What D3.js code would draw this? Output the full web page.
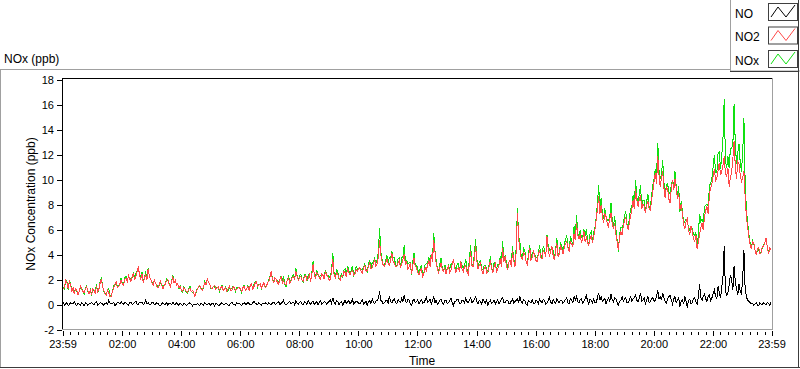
<html>
<head>
    <meta charset="utf-8">
    <title>NOx (ppb)</title>
    <style>
        body { margin: 0; background-color: #fff; }
        text { font-family: "Liberation Sans", Arial, sans-serif; fill: #000; }
        .axis text { font-size: 11px; }
        .axis line { stroke: #000; shape-rendering: crispEdges; }
        .axis path { display: none; }
        .series { fill: none; stroke-width: 1px; shape-rendering: crispEdges; }
    </style>
</head>
<body>
    <svg id="chart" width="800" height="369"></svg>
    <script src="https://d3js.org/d3.v7.min.js"></script>
    <script>
        // readings every 5 minutes from 23:59 to 23:59 next day (289 values),
        // plus the in-between readings 2.5 minutes later (288 values)
        let sampleMinutes = 5;

        let no2 = [
            1.8, 1.3, 1.7, 1.9, 1.0, 0.8, 1.1, 1.0, 1.2, 0.9, 1.4, 0.8,
            0.7, 1.1, 1.4, 1.2, 2.0, 1.1, 0.7, 0.9, 0.6, 1.3, 1.8, 1.4,
            1.9, 1.5, 2.1, 2.3, 1.8, 2.5, 2.2, 3.0, 2.0, 1.7, 2.3, 2.8,
            2.0, 1.5, 1.7, 1.3, 1.8, 1.2, 1.6, 2.0, 1.4, 2.2, 1.9, 1.6,
            1.4, 1.0, 1.2, 0.9, 1.3, 1.1, 0.6, 1.2, 1.5, 1.1, 1.7, 2.0,
            1.6, 1.2, 1.5, 1.3, 1.1, 1.4, 1.2, 1.0, 1.4, 1.1, 1.3, 1.2,
            1.3, 1.0, 1.4, 1.2, 1.1, 1.6, 1.4, 1.8, 1.5, 1.3, 1.7, 1.4,
            1.8, 2.6, 1.7, 2.0, 1.6, 2.2, 1.9, 1.5, 2.1, 1.8, 2.2, 2.6,
            1.9, 2.2, 1.8, 2.3, 2.0, 1.8, 3.2, 2.1, 2.4, 2.0, 2.3, 2.6,
            2.2, 2.0, 3.6, 2.1, 2.4, 1.9, 2.2, 2.5, 2.9, 2.3, 2.7, 2.4,
            2.6, 2.9, 2.5, 3.1, 2.7, 3.3, 2.9, 3.6, 3.2, 5.1, 3.4, 3.0,
            3.6, 3.1, 4.1, 3.3, 3.0, 3.5, 3.2, 4.0, 3.4, 3.0, 2.4, 3.7,
            2.9, 2.3, 2.8, 2.4, 2.7, 3.5, 4.0, 5.1, 3.2, 2.5, 3.3, 2.6,
            2.4, 3.0, 2.7, 3.6, 2.5, 2.9, 3.4, 2.6, 3.1, 2.4, 4.2, 3.0,
            4.6, 2.8, 3.3, 2.4, 3.0, 2.6, 3.5, 2.5, 3.2, 2.8, 3.6, 4.5,
            3.8, 2.7, 3.5, 4.2, 3.0, 7.3, 4.4, 3.6, 4.0, 3.2, 4.5, 3.7,
            3.9, 3.4, 4.3, 3.6, 4.1, 5.4, 3.8, 4.6, 3.5, 4.9, 4.0, 4.4,
            4.5, 5.0, 4.2, 4.8, 5.6, 6.5, 5.2, 4.9, 5.8, 5.3, 4.7, 5.5,
            5.4, 6.8, 8.6, 7.9, 6.5, 7.0, 6.2, 7.3, 6.0, 5.6, 4.3, 5.8,
            6.2, 6.9, 5.9, 7.0, 8.3, 9.2, 7.8, 8.6, 8.0, 7.3, 8.2, 7.5,
            9.0, 10.5, 11.8, 9.4, 10.6, 8.5, 9.2, 8.1, 9.9, 10.0, 8.4, 7.6,
            7.2, 6.0, 6.8, 5.5, 5.9, 5.0, 4.4, 5.6, 6.5, 7.0, 7.8, 8.8,
            9.6, 10.8, 10.1, 11.3, 10.6, 11.8, 10.2, 9.4, 10.5, 13.0, 10.0, 11.2,
            9.8, 10.6, 7.0, 5.4, 4.4, 4.9, 3.9, 4.5, 4.1, 4.6, 5.3, 4.0, 4.3
        ];
        let no2Mid = [
            1.2, 1.9, 1.2, 1.5, 1.3, 1.2, 0.7, 1.4, 1.0, 1.2, 1.1, 1.1,
            1.2, 0.8, 1.0, 1.7, 1.4, 0.8, 1.1, 0.6, 1.0, 1.6, 1.3, 1.6,
            1.6, 2.0, 1.8, 2.0, 2.2, 1.9, 2.6, 2.3, 2.4, 2.1, 1.9, 2.2,
            1.7, 1.9, 1.4, 1.6, 1.5, 1.5, 1.9, 1.6, 1.8, 1.7, 1.5, 1.3,
            1.1, 1.3, 1.0, 1.2, 1.0, 0.9, 1.0, 1.4, 1.2, 1.4, 1.5, 1.7,
            1.3, 1.4, 1.2, 1.4, 1.3, 1.1, 1.3, 1.2, 1.1, 1.4, 1.1, 1.3,
            1.2, 1.3, 1.1, 1.4, 1.5, 1.2, 1.7, 1.4, 1.6, 1.5, 1.3, 1.7,
            2.2, 1.9, 2.1, 1.7, 2.0, 1.7, 1.6, 1.9, 1.7, 2.1, 2.0, 2.2,
            2.1, 1.9, 2.2, 1.9, 2.3, 2.4, 2.3, 2.5, 2.1, 2.4, 2.0, 2.3,
            1.9, 2.6, 2.4, 2.5, 2.1, 2.3, 2.6, 2.2, 2.5, 2.6, 2.3, 2.8,
            2.8, 2.6, 2.9, 2.6, 3.0, 2.8, 3.2, 3.0, 3.7, 3.9, 3.1, 3.3,
            3.2, 3.5, 3.4, 3.0, 3.3, 2.9, 3.6, 3.2, 2.8, 3.3, 3.1, 3.0,
            2.5, 2.7, 2.2, 2.9, 3.1, 3.0, 3.4, 4.2, 2.8, 2.9, 2.7, 2.9,
            2.8, 2.5, 3.2, 2.9, 2.8, 2.6, 2.8, 3.0, 2.6, 3.3, 3.1, 3.6,
            3.5, 3.1, 2.7, 2.9, 2.5, 3.0, 2.8, 3.0, 2.6, 3.1, 3.0, 3.4,
            3.1, 3.3, 3.0, 3.5, 4.2, 5.2, 3.7, 4.1, 3.4, 3.8, 3.5, 4.2,
            3.5, 4.0, 3.7, 4.3, 3.8, 4.4, 4.2, 3.9, 4.2, 3.8, 4.6, 4.0,
            4.8, 4.5, 5.0, 4.6, 5.1, 5.5, 5.6, 5.2, 5.0, 4.9, 5.2, 4.9,
            6.0, 7.6, 7.2, 7.0, 7.2, 6.4, 6.8, 6.4, 6.5, 5.0, 5.4, 5.5,
            6.7, 6.3, 6.6, 7.6, 7.6, 8.3, 8.4, 7.6, 7.8, 7.9, 7.6, 8.3,
            9.8, 9.6, 10.3, 10.1, 9.3, 9.4, 8.4, 9.2, 9.1, 9.3, 8.9, 8.0,
            6.4, 6.6, 5.9, 6.2, 5.2, 5.5, 5.0, 6.1, 5.9, 7.5, 7.2, 9.3,
            10.2, 9.9, 10.7, 10.3, 11.1, 10.4, 10.9, 10.1, 11.6, 11.0, 11.4, 10.3,
            10.1, 8.6, 6.2, 4.8, 5.0, 4.3, 4.4, 4.0, 4.6, 4.9, 4.5, 4.5
        ];

        let no = [
            0.0, -0.1, 0.1, -0.05, 0.05, 0.2, -0.1, 0.0, 0.1, -0.15, 0.05, 0.0,
            0.1, -0.05, 0.2, 0.0, 0.05, -0.1, 0.1, 0.3, 0.0, 0.15, -0.05, 0.1,
            0.2, 0.0, 0.1, -0.1, 0.15, 0.05, 0.25, 0.0, 0.1, -0.05, 0.3, 0.1,
            -0.05, 0.1, 0.0, 0.05, -0.15, 0.1, 0.0, -0.1, 0.05, 0.15, -0.05, 0.0,
            0.05, -0.1, 0.0, -0.05, 0.1, -0.15, 0.0, 0.05, -0.1, 0.0, 0.1, -0.05,
            0.0, 0.05, -0.15, 0.0, -0.1, 0.1, -0.05, 0.0, -0.1, 0.15, 0.0, 0.1,
            0.05, -0.1, 0.1, 0.0, 0.05, -0.05, 0.2, 0.0, 0.1, -0.1, 0.0, 0.05,
            0.1, -0.05, 0.15, 0.0, 0.2, 0.05, 0.3, -0.1, 0.1, 0.0, 0.15, 0.25,
            0.0, 0.2, -0.05, 0.1, 0.3, 0.0, 0.2, 0.1, -0.1, 0.25, 0.05, 0.15,
            0.1, 0.3, 0.5, 0.0, 0.2, 0.1, -0.1, 0.3, 0.15, 0.0, 0.35, 0.1,
            0.2, 0.0, 0.3, 0.1, -0.1, 0.25, 0.4, 0.05, 0.3, 1.0, 0.2, 0.1,
            0.3, 0.6, 0.1, 0.4, 0.0, 0.2, 0.5, 0.7, 0.1, 0.3, -0.1, 0.4,
            0.2, 0.0, 0.35, 0.1, 0.5, 0.2, 0.0, 0.6, 0.3, 0.1, 0.4, 0.0,
            0.3, 0.1, 0.45, -0.1, 0.2, 0.35, 0.0, 0.25, 0.5, 0.1, 0.5, 0.2,
            0.6, 0.0, 0.2, 0.4, 0.1, -0.1, 0.3, 0.15, 0.0, 0.35, 0.2, 0.5,
            0.1, 0.3, 0.0, 0.4, 0.2, 0.4, 0.6, 0.1, 0.3, -0.1, 0.2, 0.35,
            0.0, 0.25, 0.4, 0.1, 0.3, 0.1, 0.5, 0.0, 0.2, 0.4, 0.1, 0.3,
            0.2, 0.5, 0.0, 0.3, 0.6, 0.6, 0.1, 0.4, 0.2, 0.7, 0.0, 0.3,
            0.4, 0.1, 0.9, 0.6, 0.3, 0.0, 0.5, 0.8, 0.2, 0.4, -0.1, 0.3,
            0.2, 0.5, 0.1, 0.6, 0.4, 0.7, 0.2, 0.9, 0.3, 0.0, 0.6, 0.2,
            0.5, 0.3, 1.1, 0.6, 0.9, 0.2, 0.4, 0.7, 0.0, 0.6, 0.3, -0.2,
            0.3, 0.6, -0.3, 0.4, 0.1, 0.5, 0.0, 1.6, 0.3, 0.8, 0.2, 0.7,
            0.5, 1.1, 0.4, 0.9, 1.3, 4.6, 0.7, 1.5, 2.0, 3.0, 1.2, 1.6,
            0.8, 4.3, 0.6, 0.2, 0.0, -0.1, 0.1, -0.15, 0.0, 0.1, -0.1, 0.05, 0.15
        ];
        let noMid = [
            0.1, 0.0, -0.1, 0.1, 0.0, -0.05, 0.1, -0.1, 0.0, 0.1, -0.1, 0.05,
            0.0, 0.1, -0.1, 0.1, 0.0, 0.05, -0.05, 0.1, 0.05, -0.1, 0.1, 0.0,
            0.05, 0.1, 0.0, 0.1, -0.05, 0.15, 0.0, 0.1, 0.15, 0.05, 0.0, -0.05,
            0.1, -0.05, 0.1, -0.1, 0.05, 0.0, 0.1, 0.05, -0.05, 0.0, 0.1, -0.1,
            -0.05, 0.05, -0.1, 0.05, 0.0, 0.0, -0.05, -0.05, 0.05, -0.1, 0.0, 0.05,
            -0.1, 0.0, 0.05, -0.1, 0.05, -0.05, 0.05, -0.1, 0.05, 0.0, -0.1, 0.0,
            -0.05, 0.05, 0.0, 0.1, -0.05, 0.1, 0.05, -0.05, 0.0, 0.05, 0.1, -0.05,
            0.0, 0.1, 0.0, 0.15, -0.05, 0.15, 0.0, 0.05, 0.2, 0.1, -0.05, 0.05,
            0.15, 0.0, 0.2, -0.05, 0.1, 0.15, -0.05, 0.2, 0.1, 0.0, 0.2, 0.0,
            0.2, 0.05, 0.15, 0.25, -0.05, 0.2, 0.1, 0.05, 0.25, 0.15, 0.0, 0.2,
            0.05, 0.2, 0.0, 0.2, 0.15, 0.05, 0.15, 0.25, 0.45, 0.3, 0.0, 0.25,
            0.1, 0.2, 0.3, 0.15, 0.35, 0.1, 0.2, 0.25, 0.4, 0.0, 0.25, 0.1,
            0.35, 0.2, 0.05, 0.3, 0.15, 0.4, 0.25, 0.1, 0.0, 0.3, 0.1, 0.25,
            0.0, 0.3, 0.1, 0.2, 0.4, 0.05, 0.3, 0.1, 0.2, 0.35, 0.1, 0.4,
            0.2, 0.3, 0.0, 0.2, 0.3, 0.15, 0.05, 0.3, 0.2, 0.0, 0.4, 0.1,
            0.3, 0.05, 0.25, 0.1, 0.3, 0.15, 0.2, 0.35, 0.0, 0.3, 0.1, 0.05,
            0.3, 0.05, 0.2, 0.35, 0.0, 0.3, 0.15, 0.35, 0.05, 0.2, 0.3, 0.05,
            0.35, 0.1, 0.4, 0.1, 0.3, 0.2, 0.35, 0.1, 0.45, 0.2, 0.4, 0.1,
            0.1, 0.5, 0.3, 0.2, 0.45, 0.3, 0.2, 0.35, 0.5, 0.1, 0.2, 0.6,
            0.4, 0.1, 0.35, 0.2, 0.5, 0.3, 0.45, 0.2, 0.5, 0.3, 0.1, 0.4,
            0.2, 0.6, 0.4, 0.3, 0.5, 0.1, 0.6, 0.3, 0.4, 0.1, 0.5, 0.2,
            0.0, 0.2, 0.3, 0.0, 0.4, 0.2, 0.6, 0.5, 0.6, 0.4, 0.6, 0.3,
            0.8, 0.6, 1.4, 0.5, 2.2, 1.0, 0.9, 2.3, 1.1, 1.8, 0.7, 1.0,
            2.0, 1.2, 0.3, 0.1, 0.05, 0.0, -0.1, 0.1, -0.05, 0.0, 0.1, -0.1
        ];

        let nox = [
            1.8, 1.2, 1.8, 1.85, 1.05, 1.0, 1.0, 1.0, 1.3, 0.75, 1.45, 0.8,
            0.8, 1.05, 1.6, 1.2, 2.05, 1.0, 0.8, 1.2, 0.6, 1.45, 1.75, 1.5,
            2.1, 1.5, 2.2, 2.2, 1.95, 2.55, 2.45, 3.0, 2.1, 1.65, 2.6, 2.9,
            1.95, 1.6, 1.7, 1.35, 1.65, 1.3, 1.6, 1.9, 1.45, 2.35, 1.85, 1.6,
            1.45, 0.9, 1.2, 0.85, 1.4, 0.95, 0.6, 1.25, 1.4, 1.1, 1.8, 1.95,
            1.6, 1.25, 1.35, 1.3, 1.0, 1.5, 1.15, 1.0, 1.3, 1.25, 1.3, 1.3,
            1.35, 0.9, 1.5, 1.2, 1.15, 1.55, 1.6, 1.8, 1.6, 1.2, 1.7, 1.45,
            1.9, 2.55, 1.85, 2.0, 1.8, 2.25, 2.2, 1.4, 2.2, 1.8, 2.35, 2.85,
            1.9, 2.4, 1.75, 2.4, 2.3, 1.8, 3.4, 2.2, 2.3, 2.25, 2.35, 2.75,
            2.3, 2.3, 4.1, 2.1, 2.6, 2.0, 2.1, 2.8, 3.05, 2.3, 3.05, 2.5,
            2.8, 2.9, 2.8, 3.2, 2.6, 3.55, 3.3, 3.65, 3.5, 6.1, 3.6, 3.1,
            3.9, 3.7, 4.2, 3.7, 3.0, 3.7, 3.7, 4.7, 3.5, 3.3, 2.3, 4.1,
            3.1, 2.3, 3.15, 2.5, 3.2, 3.7, 4.0, 5.7, 3.5, 2.6, 3.7, 2.6,
            2.7, 3.1, 3.15, 3.5, 2.7, 3.25, 3.4, 2.85, 3.6, 2.5, 4.7, 3.2,
            5.2, 2.8, 3.5, 2.8, 3.1, 2.5, 3.8, 2.65, 3.2, 3.15, 3.8, 5.0,
            3.9, 3.0, 3.5, 4.6, 3.2, 7.7, 5.0, 3.7, 4.3, 3.1, 4.7, 4.05,
            3.9, 3.65, 4.7, 3.7, 4.4, 5.5, 4.3, 4.6, 3.7, 5.3, 4.1, 4.7,
            4.7, 5.5, 4.2, 5.1, 6.2, 7.1, 5.3, 5.3, 6.0, 6.0, 4.7, 5.8,
            5.8, 6.9, 9.5, 8.5, 6.8, 7.0, 6.7, 8.1, 6.2, 6.0, 4.2, 6.1,
            6.4, 7.4, 6.0, 7.6, 8.7, 9.9, 8.0, 9.5, 8.3, 7.3, 8.8, 7.7,
            9.5, 10.8, 12.9, 10.0, 11.5, 8.7, 9.6, 8.8, 9.9, 10.6, 8.7, 7.4,
            7.5, 6.6, 6.5, 5.9, 6.0, 5.5, 4.4, 7.2, 6.8, 7.8, 8.0, 9.5,
            10.1, 11.9, 10.5, 12.2, 11.9, 16.4, 10.9, 10.9, 12.5, 16.0, 11.2, 12.8,
            10.6, 14.9, 7.6, 5.6, 4.4, 4.8, 4.0, 4.35, 4.1, 4.7, 5.2, 4.05, 4.45
        ];
        let noxMid = [
            1.3, 1.9, 1.1, 1.6, 1.3, 1.15, 0.8, 1.3, 1.0, 1.3, 1.0, 1.15,
            1.2, 0.9, 0.9, 1.8, 1.4, 0.85, 1.05, 0.7, 1.05, 1.5, 1.4, 1.6,
            1.65, 2.1, 1.8, 2.1, 2.15, 2.05, 2.6, 2.4, 2.55, 2.15, 1.9, 2.15,
            1.8, 1.85, 1.5, 1.5, 1.55, 1.5, 2.0, 1.65, 1.75, 1.7, 1.6, 1.2,
            1.05, 1.35, 0.9, 1.25, 1.0, 0.9, 0.95, 1.35, 1.25, 1.3, 1.5, 1.75,
            1.2, 1.4, 1.25, 1.3, 1.35, 1.05, 1.35, 1.1, 1.15, 1.4, 1.0, 1.3,
            1.15, 1.35, 1.1, 1.5, 1.45, 1.3, 1.75, 1.35, 1.6, 1.55, 1.4, 1.65,
            2.2, 2.0, 2.1, 1.85, 1.95, 1.85, 1.6, 1.95, 1.9, 2.2, 1.95, 2.25,
            2.25, 1.9, 2.4, 1.85, 2.4, 2.55, 2.25, 2.7, 2.2, 2.4, 2.2, 2.3,
            2.1, 2.65, 2.55, 2.75, 2.05, 2.5, 2.7, 2.25, 2.75, 2.75, 2.3, 3.0,
            2.85, 2.8, 2.9, 2.8, 3.15, 2.85, 3.35, 3.25, 4.15, 4.2, 3.1, 3.55,
            3.3, 3.7, 3.7, 3.15, 3.65, 3.0, 3.8, 3.45, 3.2, 3.3, 3.35, 3.1,
            2.85, 2.9, 2.25, 3.2, 3.25, 3.4, 3.65, 4.3, 2.8, 3.2, 2.8, 3.15,
            2.8, 2.8, 3.3, 3.1, 3.2, 2.65, 3.1, 3.1, 2.8, 3.65, 3.2, 4.0,
            3.7, 3.4, 2.7, 3.1, 2.8, 3.15, 2.85, 3.3, 2.8, 3.1, 3.4, 3.5,
            3.4, 3.35, 3.25, 3.6, 4.5, 5.35, 3.9, 4.45, 3.4, 4.1, 3.6, 4.25,
            3.8, 4.05, 3.9, 4.65, 3.8, 4.7, 4.35, 4.25, 4.25, 4.0, 4.9, 4.05,
            5.15, 4.6, 5.4, 4.7, 5.4, 5.7, 5.95, 5.3, 5.45, 5.1, 5.6, 5.0,
            6.1, 8.1, 7.5, 7.2, 7.65, 6.7, 7.0, 6.75, 7.0, 5.1, 5.6, 6.1,
            7.1, 6.4, 6.95, 7.8, 8.1, 8.6, 8.85, 7.8, 8.3, 8.2, 7.7, 8.7,
            10.0, 10.2, 10.7, 10.4, 9.8, 9.5, 9.0, 9.5, 9.5, 9.4, 9.4, 8.2,
            6.4, 6.8, 6.2, 6.2, 5.6, 5.7, 5.6, 6.6, 6.5, 7.9, 7.8, 9.6,
            11.0, 10.5, 12.1, 10.8, 13.3, 11.4, 11.8, 12.4, 12.7, 12.8, 12.1, 11.3,
            12.1, 9.8, 6.5, 4.9, 5.05, 4.3, 4.3, 4.1, 4.55, 4.9, 4.6, 4.4
        ];

        let yTicks = [-2, 0, 2, 4, 6, 8, 10, 12, 14, 16, 18];
        let xTickLabels = ['23:59', '02:00', '04:00', '06:00', '08:00', '10:00', '12:00',
                           '14:00', '16:00', '18:00', '20:00', '22:00', '23:59'];

        let seriesNames = ['NO', 'NO2', 'NOx'];
        let seriesColors = ['#000000', '#ff4848', '#10e010'];

        let svg = d3.select('#chart');

        let start = new Date(2000, 0, 1, 23, 59),
            end = new Date(2000, 0, 2, 23, 59);

        let x = d3.scaleTime().domain([start, end]).range([62, 771]),
            y = d3.scaleLinear().domain([-2, 18]).range([329, 79]);

        // tick times: 23:59, then every 2 hours from 02:00, then 23:59
        let majorTimes = xTickLabels.map(function (lab, i) {
            if (i === 0) return start;
            if (i === xTickLabels.length - 1) return end;
            let p = lab.split(':');
            return new Date(2000, 0, 2, +p[0], +p[1]);
        });
        let minorTimes = d3.timeMinute.every(15).range(new Date(2000, 0, 2, 0, 15), end)
            .filter(function (d) { return d.getMinutes() !== 0 || d.getHours() % 2 !== 0; });

        // merge the on-the-5-minute and in-between readings into one time series
        function merge(vals, mids) {
            let pts = [];
            vals.forEach(function (v, i) {
                pts.push([d3.timeSecond.offset(start, i * sampleMinutes * 60), v]);
                if (i < mids.length) {
                    pts.push([d3.timeSecond.offset(start, i * sampleMinutes * 60 + 150), mids[i]]);
                }
            });
            return pts;
        }

        // outer panel frame
        svg.append('line').attr('x1', 0).attr('x2', 730).attr('y1', 69.5).attr('y2', 69.5)
            .attr('stroke', '#a0a0a0');
        svg.append('line').attr('x1', 0.5).attr('x2', 0.5).attr('y1', 69.5).attr('y2', 367)
            .attr('stroke', '#a0a0a0');
        svg.append('line').attr('x1', 0).attr('x2', 800).attr('y1', 367.5).attr('y2', 367.5)
            .attr('stroke', '#3c3c3c');
        svg.append('line').attr('x1', 798.5).attr('x2', 798.5).attr('y1', 0).attr('y2', 368)
            .attr('stroke', '#3c3c3c');

        // plot area frame
        svg.append('line').attr('x1', 62).attr('x2', 772).attr('y1', 78.5).attr('y2', 78.5).attr('stroke', '#000');
        svg.append('line').attr('x1', 62.5).attr('x2', 62.5).attr('y1', 78).attr('y2', 330).attr('stroke', '#000');
        svg.append('line').attr('x1', 772.5).attr('x2', 772.5).attr('y1', 78).attr('y2', 330).attr('stroke', '#a0a0a0');
        svg.append('line').attr('x1', 62).attr('x2', 773).attr('y1', 329.5).attr('y2', 329.5).attr('stroke', '#a0a0a0');

        // axes
        svg.append('g')
            .attr('class', 'axis axis--y')
            .attr('transform', 'translate(62,0.5)')
            .call(d3.axisLeft(y).tickValues(yTicks).tickSize(5).tickPadding(3)
                .tickFormat(function (d) { return String(d); }));

        svg.append('g')
            .attr('class', 'axis axis--x')
            .attr('transform', 'translate(0.5,331)')
            .call(d3.axisBottom(x).tickValues(majorTimes).tickSize(5).tickPadding(4)
                .tickFormat(function (d, i) { return xTickLabels[i]; }));

        svg.append('g')
            .attr('class', 'axis axis--x-minor')
            .attr('transform', 'translate(0.5,332)')
            .call(d3.axisBottom(x).tickValues(minorTimes).tickSize(3).tickFormat(''));

        svg.append('text')
            .attr('x', 422).attr('y', 365)
            .attr('text-anchor', 'middle')
            .style('font-size', '12px')
            .text('Time');

        svg.append('text')
            .attr('transform', 'translate(35,204) rotate(-90)')
            .attr('text-anchor', 'middle')
            .style('font-size', '12px')
            .text('NOx Concentration (ppb)');

        svg.append('text')
            .attr('x', 4).attr('y', 63)
            .style('font-size', '12px')
            .text('NOx (ppb)');

        // data
        svg.append('clipPath').attr('id', 'plotclip')
            .append('rect').attr('x', 63).attr('y', 79).attr('width', 709).attr('height', 250);

        let line = d3.line()
            .x(function (d) { return x(d[0]); })
            .y(function (d) { return y(d[1]); });

        // NOx drawn first, NO2 over it, NO on top
        let plots = [merge(nox, noxMid), merge(no2, no2Mid), merge(no, noMid)];
        let plotColors = [seriesColors[2], seriesColors[1], seriesColors[0]];
        svg.append('g').attr('clip-path', 'url(#plotclip)')
            .selectAll('path')
            .data(plots)
            .enter().append('path')
            .attr('class', 'series')
            .attr('stroke', function (d, i) { return plotColors[i]; })
            .attr('d', line);

        // legend
        let legend = svg.append('g').attr('class', 'legend');
        legend.append('rect').attr('x', 730.5).attr('y', -1).attr('width', 70).attr('height', 72)
            .attr('fill', '#fff').attr('stroke', '#a0a0a0');
        legend.append('line').attr('x1', 730).attr('x2', 799).attr('y1', 71.5).attr('y2', 71.5).attr('stroke', '#3c3c3c');
        legend.append('line').attr('x1', 798.5).attr('x2', 798.5).attr('y1', 0).attr('y2', 72).attr('stroke', '#3c3c3c');

        let zig = d3.line();
        let items = legend.selectAll('.item')
            .data(seriesNames)
            .enter().append('g')
            .attr('class', 'item')
            .attr('transform', function (d, i) { return 'translate(0,' + (i * 23.5) + ')'; });
        items.append('text')
            .attr('x', 735).attr('y', 17.5)
            .style('font-size', '12px')
            .text(function (d) { return d; });
        items.append('rect')
            .attr('x', 768.5).attr('y', 3.5).attr('width', 29).attr('height', 17)
            .attr('fill', '#fff').attr('stroke', '#404040');
        items.append('path')
            .attr('fill', 'none')
            .attr('stroke', function (d, i) { return seriesColors[i]; })
            .attr('d', zig([[771, 17], [778, 7], [786, 17], [795, 5]]));
    </script>
</body>
</html>
